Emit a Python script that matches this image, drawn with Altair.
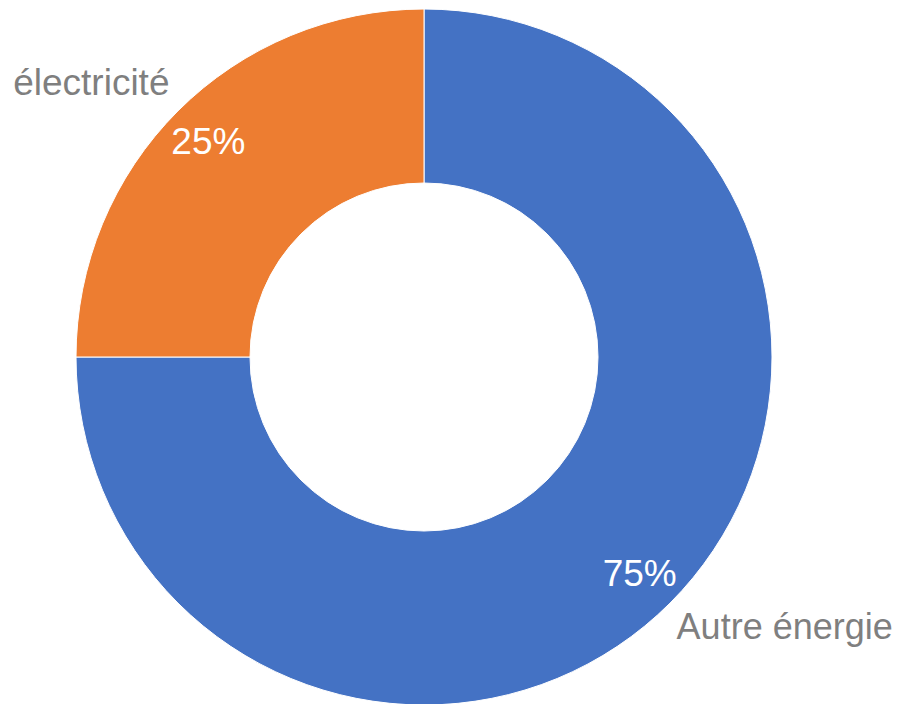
import altair as alt
import pandas as pd

categories = ["Autre énergie", "électricité"]
values = [75, 25]
pct_labels = ["75%", "25%"]
colors = ["#4472C4", "#ED7D31"]
order_idx = [0, 1]

df = pd.DataFrame({"cat": categories, "val": values, "pct": pct_labels, "ord": order_idx})

FONT = "Liberation Sans"

base = alt.Chart(df).encode(
    theta=alt.Theta("val:Q", stack=True),
    order=alt.Order("ord:Q"),
    x=alt.value(416),
    y=alt.value(349),
)

arc = base.mark_arc(radius=348, radius2=174, stroke="white", strokeWidth=1).encode(
    color=alt.Color("cat:N", scale=alt.Scale(domain=categories, range=colors), legend=None)
)

pct = base.mark_text(radius=305, dy=2, fontSize=37, font=FONT, color="white").encode(
    text="pct:N"
)

lab_elec = base.mark_text(radius=305, dx=-117, dy=-57, fontSize=37, font=FONT, color="#7F7F7F").encode(
    text=alt.condition(alt.datum.cat == "électricité", "cat:N", alt.value(""))
)

lab_autre = base.mark_text(radius=305, dx=145, dy=55, fontSize=36, font=FONT, color="#7F7F7F").encode(
    text=alt.condition(alt.datum.cat == "Autre énergie", "cat:N", alt.value(""))
)

chart = alt.layer(arc, pct, lab_elec, lab_autre).properties(
    width=889, height=696, padding=0, autosize=alt.AutoSizeParams(type="none")
).configure_view(stroke=None)

chart.save("out.html", embed_options={"renderer": "svg", "actions": False})
